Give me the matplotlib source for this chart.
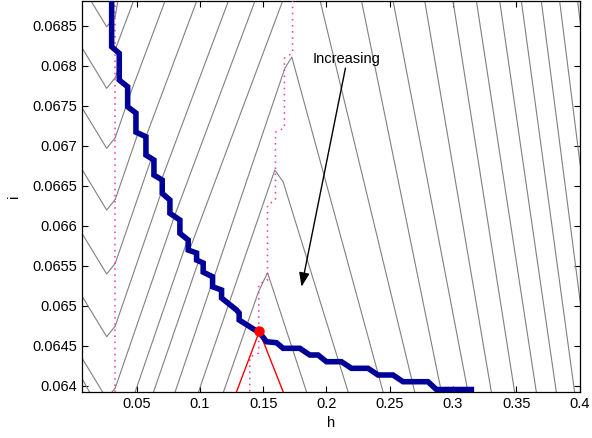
import matplotlib
matplotlib.use("Agg")
import matplotlib.pyplot as plt
from matplotlib.patches import Polygon

plt.rcParams['font.family'] = ['Liberation Sans', 'DejaVu Sans']
plt.rcParams['font.size'] = 10.5

# ---------------- data ----------------
h_lim = (0.00705, 0.4)
i_lim = (0.063925, 0.068815)
x_ticks = [0.05, 0.1, 0.15, 0.2, 0.25, 0.3, 0.35, 0.4]
x_tick_labels = ['0.05', '0.1', '0.15', '0.2', '0.25', '0.3', '0.35', '0.4']
y_ticks = [0.064, 0.0645, 0.065, 0.0655, 0.066, 0.0665, 0.067, 0.0675, 0.068, 0.0685]
y_tick_labels = ['0.064', '0.0645', '0.065', '0.0655', '0.066', '0.0665', '0.067', '0.0675', '0.068', '0.0685']

# left V-shaped parts of the gray contours: left arm -> vertex -> kink at first pink locus
v_left_h = [0.005, 0.02632, 0.03311]
v0_i = [0.069043, 0.0684875, 0.0686215]
v1_i = [0.068273, 0.0677175, 0.0678515]
v2_i = [0.067523, 0.0669675, 0.0671015]
v3_i = [0.066752, 0.0661963, 0.0663303]
v4_i = [0.065952, 0.0653963, 0.0655303]
v5_i = [0.065168, 0.0646125, 0.0647465]
v6_i = [0.064393, 0.0638375, 0.0639715]
v_i_list = [v0_i, v1_i, v2_i, v3_i, v4_i, v5_i, v6_i]
c0_arm_h = [0.03311, 0.03524]
c0_arm_i = [0.0686215, 0.068815]
c7_left_h = [0.005, 0.0126]
c7_left_i = [0.064144, 0.063925]

# rising gray lines below / left of the blue path (start point -> far point)
low_start_h = [0.03311, 0.03311, 0.03311, 0.03311, 0.03311, 0.03311, 0.04889, 0.06342]
low_start_i = [0.0678515, 0.0671015, 0.0663303, 0.0655303, 0.0647465, 0.0639715, 0.063925, 0.063925]
low_end_h = [0.09311, 0.09311, 0.09311, 0.09311, 0.09311, 0.09311, 0.10889, 0.12342]
low_end_i = [0.0706065, 0.0698565, 0.0690853, 0.0682853, 0.0675015, 0.0667265, 0.06668, 0.06668]

# rising gray lines above / right of the blue path (top crossing -> far lower-left point)
up_top_h = [0.04763, 0.07258, 0.09760, 0.12263, 0.14363, 0.16550]
up_top_i = [0.068815] * 6
up_end_h = [-0.05237, -0.02742, -0.00240, 0.02263, 0.04363, 0.06550]
up_end_i = [0.0645874] * 6

# falling gray lines on the right (top crossing -> bottom crossing)
fall_top_h = [0.19494, 0.22763, 0.25258, 0.2776, 0.29994, 0.31842, 0.33682, 0.35395, 0.36974, 0.38419, 0.3984]
fall_bot_h = [0.26971, 0.29079, 0.31179, 0.33026, 0.34866, 0.36579, 0.38158, 0.39603, 0.4097, 0.423, 0.436]

# gray contours with a visible peak near the second pink locus
c9_h = [0.08047, 0.16708, 0.17261, 0.24468]
c9_i = [0.063925, 0.0679675, 0.0681088, 0.063925]
c10_h = [0.09895, 0.15918, 0.16574, 0.21705]
c10_i = [0.063925, 0.0666963, 0.06655, 0.063925]
c11_h = [0.11868, 0.14631, 0.15342, 0.18421]
c11_i = [0.063925, 0.065175, 0.0654125, 0.063925]

# red contour through the optimum
red_h = [0.12894, 0.14695, 0.16574]
red_i = [0.063925, 0.064678, 0.063925]
opt_h = [0.14695]
opt_i = [0.064678]

# pink dotted loci
pink1_h = [0.0332, 0.0332]
pink1_i = [0.063925, 0.068815]
pink2_h = [0.1732, 0.1732, 0.1668, 0.1668, 0.1597, 0.1597, 0.1534, 0.1534, 0.1465, 0.1465, 0.1394, 0.1394]
pink2_i = [0.068815, 0.068159, 0.068096, 0.067221, 0.067171, 0.066321, 0.066259, 0.065321,
           0.065271, 0.064409, 0.064359, 0.063925]

# blue staircase path
blue_h = [0.03026, 0.03026, 0.03626, 0.03626, 0.04289, 0.04289, 0.04945, 0.04945, 0.05734, 0.05734,
          0.06366, 0.06366, 0.07021, 0.07021, 0.07629, 0.07629, 0.08418, 0.08418, 0.09074, 0.09074,
          0.09737, 0.09737, 0.10258, 0.10258, 0.11, 0.11, 0.1171, 0.1171, 0.12894, 0.131, 0.131,
          0.14734, 0.15263, 0.16052, 0.16574, 0.17892, 0.18681, 0.19337, 0.2, 0.21184, 0.21974,
          0.23284, 0.24074, 0.25258, 0.26047, 0.28021, 0.28684, 0.31447]
blue_i = [0.0688213, 0.0682375, 0.068155, 0.0678213, 0.0677375, 0.0674875, 0.0674088, 0.06717,
          0.0671125, 0.0668838, 0.0668213, 0.0666338, 0.0665713, 0.066405, 0.0663213, 0.066155,
          0.0660713, 0.065905, 0.0658213, 0.0656963, 0.0656588, 0.0655713, 0.0655338, 0.06542,
          0.0653625, 0.0652375, 0.0651963, 0.0650963, 0.0649463, 0.0649088, 0.0648213, 0.0646588,
          0.06455, 0.0645375, 0.0644675, 0.0644675, 0.0643838, 0.0643838, 0.0643, 0.0643, 0.0642175,
          0.0642175, 0.0641338, 0.0641338, 0.06405, 0.06405, 0.0639525, 0.0639525]

annot_text = 'Increasing'
annot_text_xy = (0.2160, 0.068084)
annot_tail_xy = (0.2150, 0.067971)
annot_head_xy = (0.1803, 0.065238)

# ---------------- drawing ----------------
GRAY = '#808080'
fig = plt.figure(figsize=(5.92, 4.38), dpi=100)
ax = fig.add_axes([0.139, 0.1057, 0.840, 0.893])
ax.set_xlim(*h_lim)
ax.set_ylim(*i_lim)

blue_pts = list(zip(blue_h, blue_i))
lower_region = Polygon(blue_pts + [(blue_h[-1], 0.0630), (0.0, 0.0630), (0.0, 0.0700), (blue_h[0], 0.0700)],
                       closed=True, transform=ax.transData)
upper_region = Polygon(blue_pts + [(blue_h[-1], 0.0630), (0.5, 0.0630), (0.5, 0.0700), (blue_h[0], 0.0700)],
                       closed=True, transform=ax.transData)

for vi in v_i_list:
    ax.plot(v_left_h, vi, color=GRAY, lw=0.8, zorder=2)
ax.plot(c0_arm_h, c0_arm_i, color=GRAY, lw=0.8, zorder=2)
ax.plot(c7_left_h, c7_left_i, color=GRAY, lw=0.8, zorder=2)

for h0, i0, h1, i1 in zip(low_start_h, low_start_i, low_end_h, low_end_i):
    ln, = ax.plot([h0, h1], [i0, i1], color=GRAY, lw=0.8, zorder=2)
    ln.set_clip_path(lower_region)

for h0, i0, h1, i1 in zip(up_top_h, up_top_i, up_end_h, up_end_i):
    ln, = ax.plot([h0, h1], [i0, i1], color=GRAY, lw=0.8, zorder=2)
    ln.set_clip_path(upper_region)

for ht, hb in zip(fall_top_h, fall_bot_h):
    ax.plot([ht, hb], [i_lim[1], i_lim[0]], color=GRAY, lw=0.8, zorder=2)

for hh, ii in [(c9_h, c9_i), (c10_h, c10_i), (c11_h, c11_i)]:
    ax.plot(hh, ii, color=GRAY, lw=0.8, zorder=2)

ax.plot(pink1_h, pink1_i, color='#ff3399', lw=1.1, ls=(0, (1, 3)), zorder=3)
ax.plot(pink2_h, pink2_i, color='#ff3399', lw=1.1, ls=(0, (1, 3)), zorder=3)

ax.plot(red_h, red_i, color='#ff0000', lw=1.0, zorder=4)
ax.plot(blue_h, blue_i, color='#000099', lw=4, solid_joinstyle='miter', zorder=5)
ax.plot(opt_h, opt_i, 'o', color='#ff0000', ms=6.5, zorder=6)

ax.annotate('', xy=annot_head_xy, xytext=annot_tail_xy,
            arrowprops=dict(arrowstyle='-|>,head_length=0.8,head_width=0.3', color='black', lw=1.0,
                            shrinkA=0, shrinkB=0), zorder=7)
ax.text(annot_text_xy[0], annot_text_xy[1], annot_text, ha='center', va='center', fontsize=10.5)

ax.set_xticks(x_ticks)
ax.set_xticklabels(x_tick_labels)
ax.set_yticks(y_ticks)
ax.set_yticklabels(y_tick_labels)
ax.tick_params(direction='in', top=True, right=True, length=4, width=0.8, labelsize=10.5)
for s in ax.spines.values():
    s.set_linewidth(0.9)
ax.set_xlabel('h', fontsize=10.5, labelpad=4)
ax.set_ylabel('i', fontsize=10.5, labelpad=8)

fig.savefig('out.png', dpi=100)
